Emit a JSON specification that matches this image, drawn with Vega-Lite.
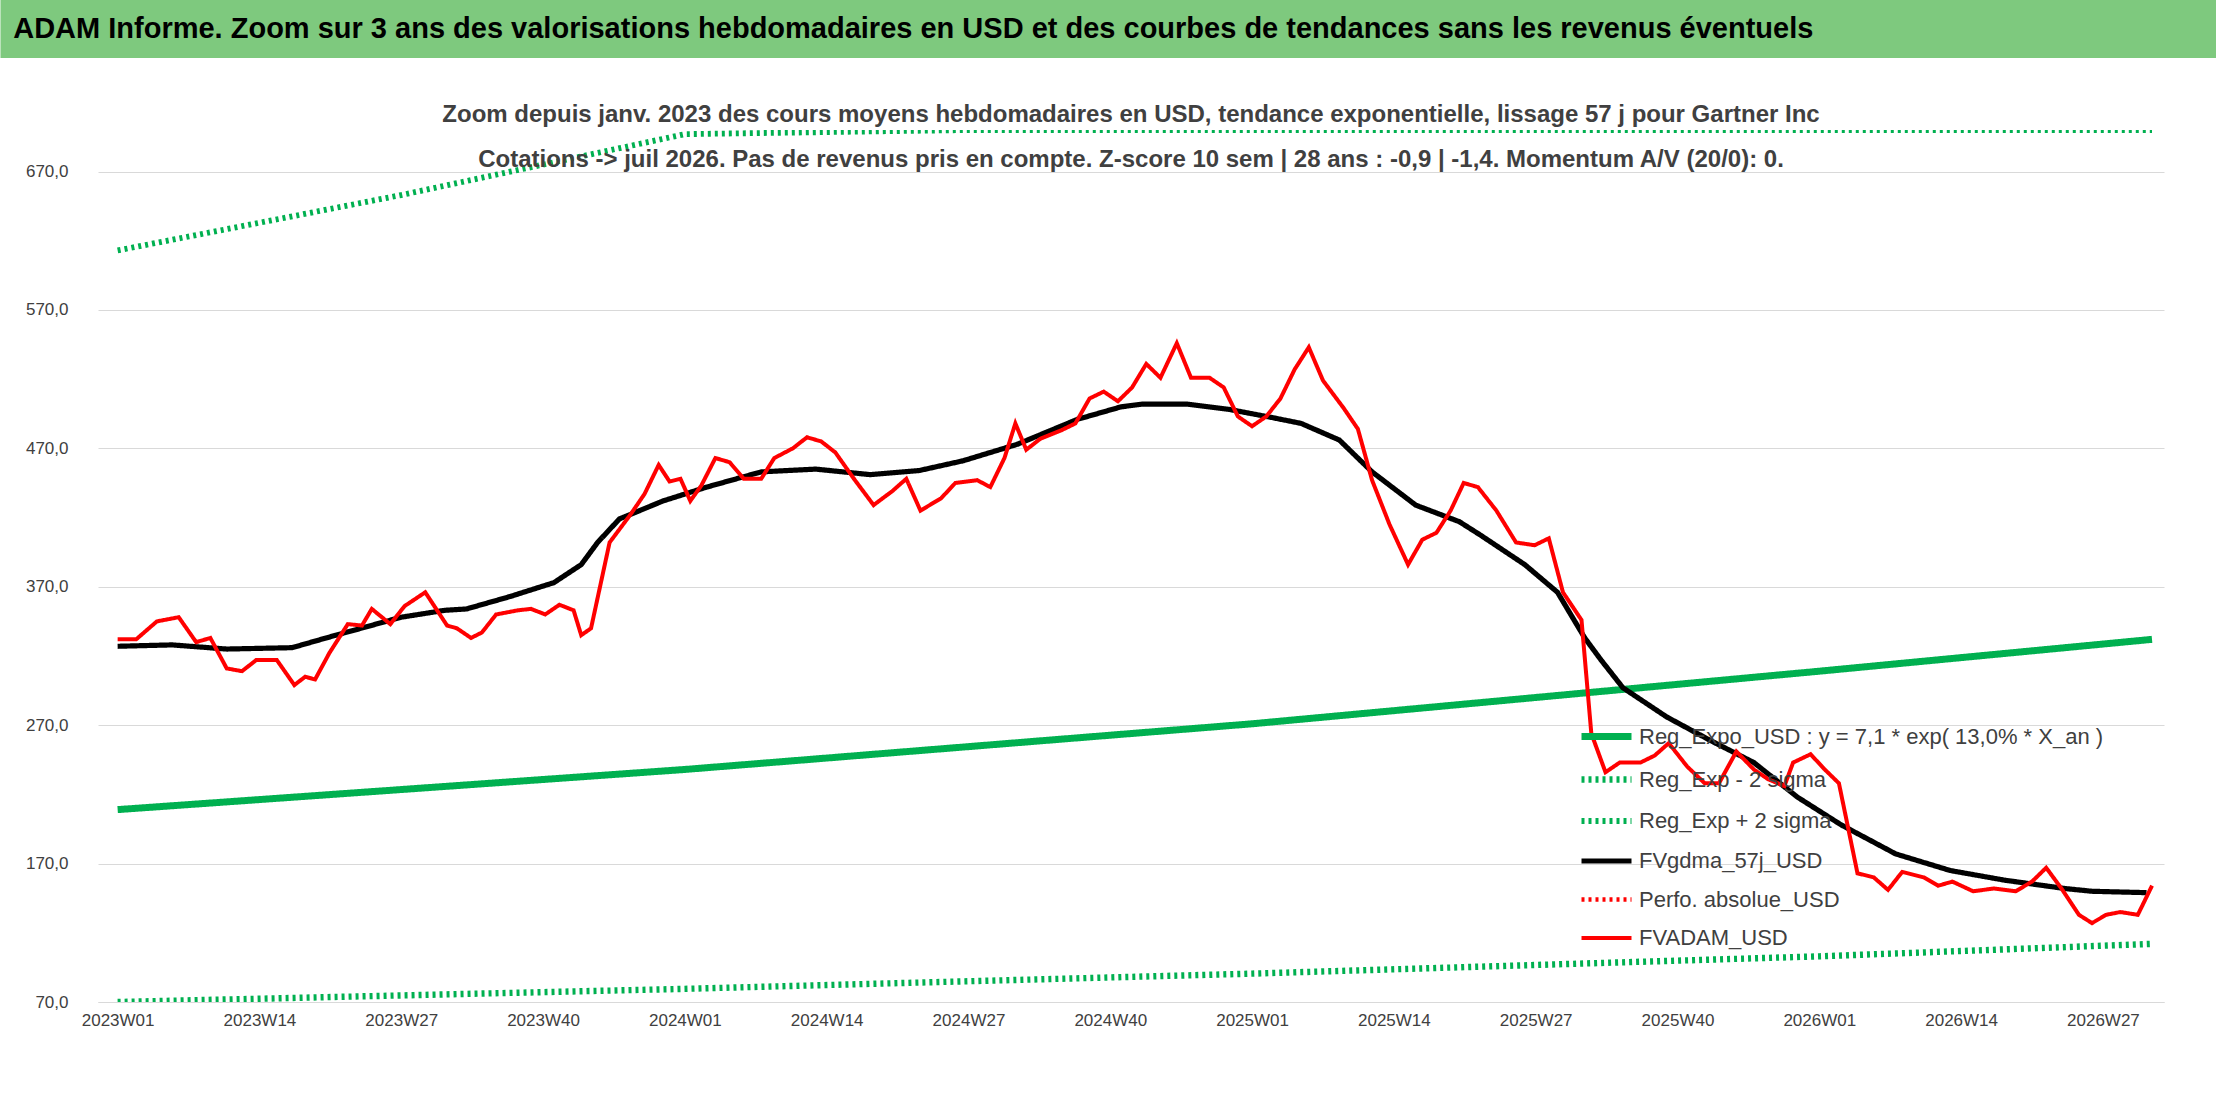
{
  "$schema": "https://vega.github.io/schema/vega-lite/v6.json",
  "background": "white",
  "padding": 0,
  "spacing": 0,
  "config": {"font": "Liberation Sans", "view": {"stroke": null}},
  "datasets": {
    "series": [
      {"serie": "Reg_Expo_USD : y = 7,1 * exp( 13,0% *  X_an )", "semaine": 0, "valeur": 209},
      {"serie": "Reg_Expo_USD : y = 7,1 * exp( 13,0% *  X_an )", "semaine": 52, "valeur": 238},
      {"serie": "Reg_Expo_USD : y = 7,1 * exp( 13,0% *  X_an )", "semaine": 104, "valeur": 271},
      {"serie": "Reg_Expo_USD : y = 7,1 * exp( 13,0% *  X_an )", "semaine": 156, "valeur": 309},
      {"serie": "Reg_Expo_USD : y = 7,1 * exp( 13,0% *  X_an )", "semaine": 186.5, "valeur": 332},
      {"serie": "Reg_Exp - 2 sigma", "semaine": 0, "valeur": 70},
      {"serie": "Reg_Exp - 2 sigma", "semaine": 52, "valeur": 79.5},
      {"serie": "Reg_Exp - 2 sigma", "semaine": 104, "valeur": 90.5},
      {"serie": "Reg_Exp - 2 sigma", "semaine": 156, "valeur": 103},
      {"serie": "Reg_Exp - 2 sigma", "semaine": 186.5, "valeur": 112},
      {"serie": "Reg_Exp + 2 sigma", "semaine": 0, "valeur": 613},
      {"serie": "Reg_Exp + 2 sigma", "semaine": 26, "valeur": 653},
      {"serie": "Reg_Exp + 2 sigma", "semaine": 52, "valeur": 697},
      {"serie": "Reg_Exp + 2 sigma", "semaine": 78, "valeur": 742},
      {"serie": "Reg_Exp + 2 sigma", "semaine": 104, "valeur": 791},
      {"serie": "Reg_Exp + 2 sigma", "semaine": 156, "valeur": 900},
      {"serie": "Reg_Exp + 2 sigma", "semaine": 186.5, "valeur": 976},
      {"serie": "FVgdma_57j_USD", "semaine": 0, "valeur": 327},
      {"serie": "FVgdma_57j_USD", "semaine": 5, "valeur": 328},
      {"serie": "FVgdma_57j_USD", "semaine": 10, "valeur": 325},
      {"serie": "FVgdma_57j_USD", "semaine": 16, "valeur": 326},
      {"serie": "FVgdma_57j_USD", "semaine": 20, "valeur": 335},
      {"serie": "FVgdma_57j_USD", "semaine": 26, "valeur": 348},
      {"serie": "FVgdma_57j_USD", "semaine": 30, "valeur": 353},
      {"serie": "FVgdma_57j_USD", "semaine": 32, "valeur": 354},
      {"serie": "FVgdma_57j_USD", "semaine": 36, "valeur": 363},
      {"serie": "FVgdma_57j_USD", "semaine": 40, "valeur": 373},
      {"serie": "FVgdma_57j_USD", "semaine": 42.5, "valeur": 386},
      {"serie": "FVgdma_57j_USD", "semaine": 44, "valeur": 402},
      {"serie": "FVgdma_57j_USD", "semaine": 46, "valeur": 419},
      {"serie": "FVgdma_57j_USD", "semaine": 50, "valeur": 432},
      {"serie": "FVgdma_57j_USD", "semaine": 54, "valeur": 442},
      {"serie": "FVgdma_57j_USD", "semaine": 59, "valeur": 453},
      {"serie": "FVgdma_57j_USD", "semaine": 64, "valeur": 455},
      {"serie": "FVgdma_57j_USD", "semaine": 69, "valeur": 451},
      {"serie": "FVgdma_57j_USD", "semaine": 73.5, "valeur": 454},
      {"serie": "FVgdma_57j_USD", "semaine": 77.5, "valeur": 461},
      {"serie": "FVgdma_57j_USD", "semaine": 82.5, "valeur": 473},
      {"serie": "FVgdma_57j_USD", "semaine": 88, "valeur": 491},
      {"serie": "FVgdma_57j_USD", "semaine": 92, "valeur": 500},
      {"serie": "FVgdma_57j_USD", "semaine": 94, "valeur": 502},
      {"serie": "FVgdma_57j_USD", "semaine": 98, "valeur": 502},
      {"serie": "FVgdma_57j_USD", "semaine": 102, "valeur": 498},
      {"serie": "FVgdma_57j_USD", "semaine": 106, "valeur": 492},
      {"serie": "FVgdma_57j_USD", "semaine": 108.5, "valeur": 488},
      {"serie": "FVgdma_57j_USD", "semaine": 112, "valeur": 476},
      {"serie": "FVgdma_57j_USD", "semaine": 115, "valeur": 453},
      {"serie": "FVgdma_57j_USD", "semaine": 119, "valeur": 429},
      {"serie": "FVgdma_57j_USD", "semaine": 123, "valeur": 417},
      {"serie": "FVgdma_57j_USD", "semaine": 125, "valeur": 407},
      {"serie": "FVgdma_57j_USD", "semaine": 129, "valeur": 386},
      {"serie": "FVgdma_57j_USD", "semaine": 132, "valeur": 366},
      {"serie": "FVgdma_57j_USD", "semaine": 134.5, "valeur": 333},
      {"serie": "FVgdma_57j_USD", "semaine": 136, "valeur": 317},
      {"serie": "FVgdma_57j_USD", "semaine": 138, "valeur": 297},
      {"serie": "FVgdma_57j_USD", "semaine": 142, "valeur": 276},
      {"serie": "FVgdma_57j_USD", "semaine": 146, "valeur": 259},
      {"serie": "FVgdma_57j_USD", "semaine": 150, "valeur": 243},
      {"serie": "FVgdma_57j_USD", "semaine": 154, "valeur": 218},
      {"serie": "FVgdma_57j_USD", "semaine": 158, "valeur": 198},
      {"serie": "FVgdma_57j_USD", "semaine": 163, "valeur": 177},
      {"serie": "FVgdma_57j_USD", "semaine": 168, "valeur": 165},
      {"serie": "FVgdma_57j_USD", "semaine": 173, "valeur": 158},
      {"serie": "FVgdma_57j_USD", "semaine": 178.5, "valeur": 152},
      {"serie": "FVgdma_57j_USD", "semaine": 181, "valeur": 150},
      {"serie": "FVgdma_57j_USD", "semaine": 186, "valeur": 149},
      {"serie": "FVADAM_USD", "semaine": 0, "valeur": 332},
      {"serie": "FVADAM_USD", "semaine": 1.7, "valeur": 332},
      {"serie": "FVADAM_USD", "semaine": 3.6, "valeur": 345},
      {"serie": "FVADAM_USD", "semaine": 5.6, "valeur": 348},
      {"serie": "FVADAM_USD", "semaine": 7.2, "valeur": 330},
      {"serie": "FVADAM_USD", "semaine": 8.5, "valeur": 333},
      {"serie": "FVADAM_USD", "semaine": 10, "valeur": 311},
      {"serie": "FVADAM_USD", "semaine": 11.4, "valeur": 309},
      {"serie": "FVADAM_USD", "semaine": 12.7, "valeur": 317},
      {"serie": "FVADAM_USD", "semaine": 14.6, "valeur": 317},
      {"serie": "FVADAM_USD", "semaine": 16.2, "valeur": 299},
      {"serie": "FVADAM_USD", "semaine": 17.2, "valeur": 305},
      {"serie": "FVADAM_USD", "semaine": 18.1, "valeur": 303},
      {"serie": "FVADAM_USD", "semaine": 19.4, "valeur": 322},
      {"serie": "FVADAM_USD", "semaine": 21.1, "valeur": 343},
      {"serie": "FVADAM_USD", "semaine": 22.4, "valeur": 342},
      {"serie": "FVADAM_USD", "semaine": 23.3, "valeur": 354},
      {"serie": "FVADAM_USD", "semaine": 25, "valeur": 343},
      {"serie": "FVADAM_USD", "semaine": 26.3, "valeur": 356},
      {"serie": "FVADAM_USD", "semaine": 28.2, "valeur": 366},
      {"serie": "FVADAM_USD", "semaine": 30.2, "valeur": 342},
      {"serie": "FVADAM_USD", "semaine": 31.1, "valeur": 340},
      {"serie": "FVADAM_USD", "semaine": 32.4, "valeur": 333},
      {"serie": "FVADAM_USD", "semaine": 33.4, "valeur": 337},
      {"serie": "FVADAM_USD", "semaine": 34.7, "valeur": 350},
      {"serie": "FVADAM_USD", "semaine": 36.7, "valeur": 353},
      {"serie": "FVADAM_USD", "semaine": 37.9, "valeur": 354},
      {"serie": "FVADAM_USD", "semaine": 39.2, "valeur": 350},
      {"serie": "FVADAM_USD", "semaine": 40.5, "valeur": 357},
      {"serie": "FVADAM_USD", "semaine": 41.8, "valeur": 353},
      {"serie": "FVADAM_USD", "semaine": 42.5, "valeur": 335},
      {"serie": "FVADAM_USD", "semaine": 43.4, "valeur": 340},
      {"serie": "FVADAM_USD", "semaine": 45.1, "valeur": 402},
      {"serie": "FVADAM_USD", "semaine": 47, "valeur": 422},
      {"serie": "FVADAM_USD", "semaine": 48.3, "valeur": 437},
      {"serie": "FVADAM_USD", "semaine": 49.6, "valeur": 458},
      {"serie": "FVADAM_USD", "semaine": 50.6, "valeur": 446},
      {"serie": "FVADAM_USD", "semaine": 51.6, "valeur": 448},
      {"serie": "FVADAM_USD", "semaine": 52.5, "valeur": 432},
      {"serie": "FVADAM_USD", "semaine": 53.5, "valeur": 443},
      {"serie": "FVADAM_USD", "semaine": 54.8, "valeur": 463},
      {"serie": "FVADAM_USD", "semaine": 56.1, "valeur": 460},
      {"serie": "FVADAM_USD", "semaine": 57.4, "valeur": 448},
      {"serie": "FVADAM_USD", "semaine": 59, "valeur": 448},
      {"serie": "FVADAM_USD", "semaine": 60.2, "valeur": 463},
      {"serie": "FVADAM_USD", "semaine": 61.9, "valeur": 470},
      {"serie": "FVADAM_USD", "semaine": 63.2, "valeur": 478},
      {"serie": "FVADAM_USD", "semaine": 64.5, "valeur": 475},
      {"serie": "FVADAM_USD", "semaine": 65.8, "valeur": 467},
      {"serie": "FVADAM_USD", "semaine": 67.5, "valeur": 448},
      {"serie": "FVADAM_USD", "semaine": 69.3, "valeur": 429},
      {"serie": "FVADAM_USD", "semaine": 71, "valeur": 439},
      {"serie": "FVADAM_USD", "semaine": 72.3, "valeur": 448},
      {"serie": "FVADAM_USD", "semaine": 73.6, "valeur": 425},
      {"serie": "FVADAM_USD", "semaine": 75.5, "valeur": 434},
      {"serie": "FVADAM_USD", "semaine": 76.8, "valeur": 445},
      {"serie": "FVADAM_USD", "semaine": 78.8, "valeur": 447},
      {"serie": "FVADAM_USD", "semaine": 80, "valeur": 442},
      {"serie": "FVADAM_USD", "semaine": 81.3, "valeur": 463},
      {"serie": "FVADAM_USD", "semaine": 82.3, "valeur": 488},
      {"serie": "FVADAM_USD", "semaine": 83.3, "valeur": 469},
      {"serie": "FVADAM_USD", "semaine": 84.6, "valeur": 477},
      {"serie": "FVADAM_USD", "semaine": 86.5, "valeur": 483},
      {"serie": "FVADAM_USD", "semaine": 87.8, "valeur": 488},
      {"serie": "FVADAM_USD", "semaine": 89.1, "valeur": 506},
      {"serie": "FVADAM_USD", "semaine": 90.4, "valeur": 511},
      {"serie": "FVADAM_USD", "semaine": 91.7, "valeur": 504},
      {"serie": "FVADAM_USD", "semaine": 93, "valeur": 514},
      {"serie": "FVADAM_USD", "semaine": 94.3, "valeur": 531},
      {"serie": "FVADAM_USD", "semaine": 95.6, "valeur": 521},
      {"serie": "FVADAM_USD", "semaine": 97.1, "valeur": 546},
      {"serie": "FVADAM_USD", "semaine": 98.4, "valeur": 521},
      {"serie": "FVADAM_USD", "semaine": 100.1, "valeur": 521},
      {"serie": "FVADAM_USD", "semaine": 101.4, "valeur": 514},
      {"serie": "FVADAM_USD", "semaine": 102.7, "valeur": 493},
      {"serie": "FVADAM_USD", "semaine": 104, "valeur": 486},
      {"serie": "FVADAM_USD", "semaine": 105.3, "valeur": 493},
      {"serie": "FVADAM_USD", "semaine": 106.6, "valeur": 506},
      {"serie": "FVADAM_USD", "semaine": 107.9, "valeur": 527},
      {"serie": "FVADAM_USD", "semaine": 109.2, "valeur": 543},
      {"serie": "FVADAM_USD", "semaine": 110.5, "valeur": 519},
      {"serie": "FVADAM_USD", "semaine": 112.4, "valeur": 499},
      {"serie": "FVADAM_USD", "semaine": 113.7, "valeur": 484},
      {"serie": "FVADAM_USD", "semaine": 115, "valeur": 447},
      {"serie": "FVADAM_USD", "semaine": 116.6, "valeur": 415},
      {"serie": "FVADAM_USD", "semaine": 118.3, "valeur": 386},
      {"serie": "FVADAM_USD", "semaine": 119.6, "valeur": 404},
      {"serie": "FVADAM_USD", "semaine": 120.9, "valeur": 409},
      {"serie": "FVADAM_USD", "semaine": 122.2, "valeur": 425},
      {"serie": "FVADAM_USD", "semaine": 123.4, "valeur": 445},
      {"serie": "FVADAM_USD", "semaine": 124.7, "valeur": 442},
      {"serie": "FVADAM_USD", "semaine": 126.4, "valeur": 425},
      {"serie": "FVADAM_USD", "semaine": 128.2, "valeur": 402},
      {"serie": "FVADAM_USD", "semaine": 129.9, "valeur": 400},
      {"serie": "FVADAM_USD", "semaine": 131.2, "valeur": 405},
      {"serie": "FVADAM_USD", "semaine": 132.5, "valeur": 366},
      {"serie": "FVADAM_USD", "semaine": 134.2, "valeur": 346},
      {"serie": "FVADAM_USD", "semaine": 135.1, "valeur": 264},
      {"serie": "FVADAM_USD", "semaine": 136.4, "valeur": 236},
      {"serie": "FVADAM_USD", "semaine": 137.7, "valeur": 243},
      {"serie": "FVADAM_USD", "semaine": 139.6, "valeur": 243},
      {"serie": "FVADAM_USD", "semaine": 140.9, "valeur": 248},
      {"serie": "FVADAM_USD", "semaine": 142.2, "valeur": 257},
      {"serie": "FVADAM_USD", "semaine": 143.9, "valeur": 240},
      {"serie": "FVADAM_USD", "semaine": 145.5, "valeur": 228},
      {"serie": "FVADAM_USD", "semaine": 146.8, "valeur": 228},
      {"serie": "FVADAM_USD", "semaine": 148.4, "valeur": 251},
      {"serie": "FVADAM_USD", "semaine": 150, "valeur": 238},
      {"serie": "FVADAM_USD", "semaine": 151.3, "valeur": 231},
      {"serie": "FVADAM_USD", "semaine": 152.8, "valeur": 226},
      {"serie": "FVADAM_USD", "semaine": 153.6, "valeur": 243},
      {"serie": "FVADAM_USD", "semaine": 155.2, "valeur": 249},
      {"serie": "FVADAM_USD", "semaine": 156.5, "valeur": 238},
      {"serie": "FVADAM_USD", "semaine": 157.8, "valeur": 228},
      {"serie": "FVADAM_USD", "semaine": 159.5, "valeur": 163},
      {"serie": "FVADAM_USD", "semaine": 161, "valeur": 160},
      {"serie": "FVADAM_USD", "semaine": 162.3, "valeur": 151},
      {"serie": "FVADAM_USD", "semaine": 163.6, "valeur": 164},
      {"serie": "FVADAM_USD", "semaine": 165.6, "valeur": 160},
      {"serie": "FVADAM_USD", "semaine": 166.9, "valeur": 154},
      {"serie": "FVADAM_USD", "semaine": 168.2, "valeur": 157},
      {"serie": "FVADAM_USD", "semaine": 170.1, "valeur": 150},
      {"serie": "FVADAM_USD", "semaine": 172, "valeur": 152},
      {"serie": "FVADAM_USD", "semaine": 174, "valeur": 150},
      {"serie": "FVADAM_USD", "semaine": 175.5, "valeur": 157},
      {"serie": "FVADAM_USD", "semaine": 176.8, "valeur": 167},
      {"serie": "FVADAM_USD", "semaine": 178.2, "valeur": 152},
      {"serie": "FVADAM_USD", "semaine": 179.8, "valeur": 133},
      {"serie": "FVADAM_USD", "semaine": 181, "valeur": 127},
      {"serie": "FVADAM_USD", "semaine": 182.3, "valeur": 133},
      {"serie": "FVADAM_USD", "semaine": 183.6, "valeur": 135},
      {"serie": "FVADAM_USD", "semaine": 185.2, "valeur": 133},
      {"serie": "FVADAM_USD", "semaine": 186.5, "valeur": 154}
    ]
  },
  "vconcat": [
    {
      "width": 2120,
      "height": 58,
      "data": {"values": [{"t": "ADAM Informe. Zoom sur 3 ans des valorisations hebdomadaires en USD et des courbes de tendances sans les revenus éventuels", "debut": -0.046, "fin": 1.0, "pos": -0.04}]},
      "encoding": {
        "x": {"type": "quantitative", "scale": {"domain": [0, 1], "nice": false}, "axis": null}
      },
      "layer": [
        {
          "mark": {"type": "rect", "color": "#7ec97e", "clip": false},
          "encoding": {"x": {"field": "debut", "type": "quantitative"}, "x2": {"field": "fin"}}
        },
        {
          "mark": {"type": "text", "align": "left", "baseline": "middle", "fontSize": 29, "fontWeight": "bold", "color": "#000000"},
          "encoding": {"x": {"field": "pos", "type": "quantitative"}, "text": {"field": "t"}}
        }
      ]
    },
    {
      "width": 2066,
      "height": 872,
      "title": {
        "text": [
          "",
          "Zoom depuis janv. 2023 des cours moyens hebdomadaires en USD, tendance exponentielle, lissage 57 j pour Gartner Inc",
          "Cotations -> juil 2026. Pas de revenus pris en compte. Z-score 10 sem | 28 ans : -0,9 | -1,4. Momentum A/V (20/0): 0."
        ],
        "fontSize": 24,
        "fontWeight": "bold",
        "color": "#404040",
        "lineHeight": 45,
        "anchor": "middle",
        "offset": -42
      },
      "data": {"name": "series"},
      "mark": {"type": "line", "clip": true},
      "encoding": {
        "x": {
          "field": "semaine", "type": "quantitative",
          "scale": {"domain": [-1.8, 187.6], "nice": false, "zero": false},
          "axis": {
            "title": null,
            "values": [0, 13, 26, 39, 52, 65, 78, 91, 104, 117, 130, 143, 156, 169, 182],
            "labelExpr": "(2023 + floor(datum.value / 52)) + 'W' + ((datum.value % 52) + 1 < 10 ? '0' : '') + ((datum.value % 52) + 1)",
            "grid": false, "ticks": false, "labelFontSize": 17, "labelColor": "#404040",
            "domainColor": "#d9d9d9", "labelPadding": 10
          }
        },
        "y": {
          "field": "valeur", "type": "quantitative",
          "scale": {"domain": [70, 700], "nice": false, "zero": false, "clamp": true},
          "axis": {
            "title": null,
            "values": [70, 170, 270, 370, 470, 570, 670],
            "labelExpr": "replace(format(datum.value, '.1f'), '.', ',')",
            "grid": true, "gridColor": "#d9d9d9", "ticks": false, "domain": false,
            "labelFontSize": 17, "labelColor": "#404040",
            "minExtent": 90, "labelPadding": 30
          }
        },
        "color": {
          "field": "serie", "type": "nominal",
          "scale": {
            "domain": ["Reg_Expo_USD : y = 7,1 * exp( 13,0% *  X_an )", "Reg_Exp - 2 sigma", "Reg_Exp + 2 sigma", "FVgdma_57j_USD", "Perfo. absolue_USD", "FVADAM_USD"],
            "range": ["#00b050", "#00b050", "#00b050", "#000000", "#ff0000", "#ff0000"]
          },
          "legend": {
            "title": null, "orient": "none", "legendX": 1480, "legendY": 708,
            "labelFontSize": 22, "labelColor": "#404040",
            "symbolType": "stroke", "symbolSize": 2500, "rowPadding": -5, "labelLimit": 600
          }
        },
        "strokeDash": {
          "field": "serie", "type": "nominal",
          "scale": {
            "domain": ["Reg_Expo_USD : y = 7,1 * exp( 13,0% *  X_an )", "Reg_Exp - 2 sigma", "Reg_Exp + 2 sigma", "FVgdma_57j_USD", "Perfo. absolue_USD", "FVADAM_USD"],
            "range": [[1, 0], [3, 4], [3, 4], [1, 0], [3, 4], [1, 0]]
          },
          "legend": null
        },
        "strokeWidth": {
          "field": "serie", "type": "nominal",
          "scale": {
            "domain": ["Reg_Expo_USD : y = 7,1 * exp( 13,0% *  X_an )", "Reg_Exp - 2 sigma", "Reg_Exp + 2 sigma", "FVgdma_57j_USD", "Perfo. absolue_USD", "FVADAM_USD"],
            "range": [7, 4, 4, 4.5, 3, 5]
          },
          "legend": null
        }
      }
    }
  ]
}
